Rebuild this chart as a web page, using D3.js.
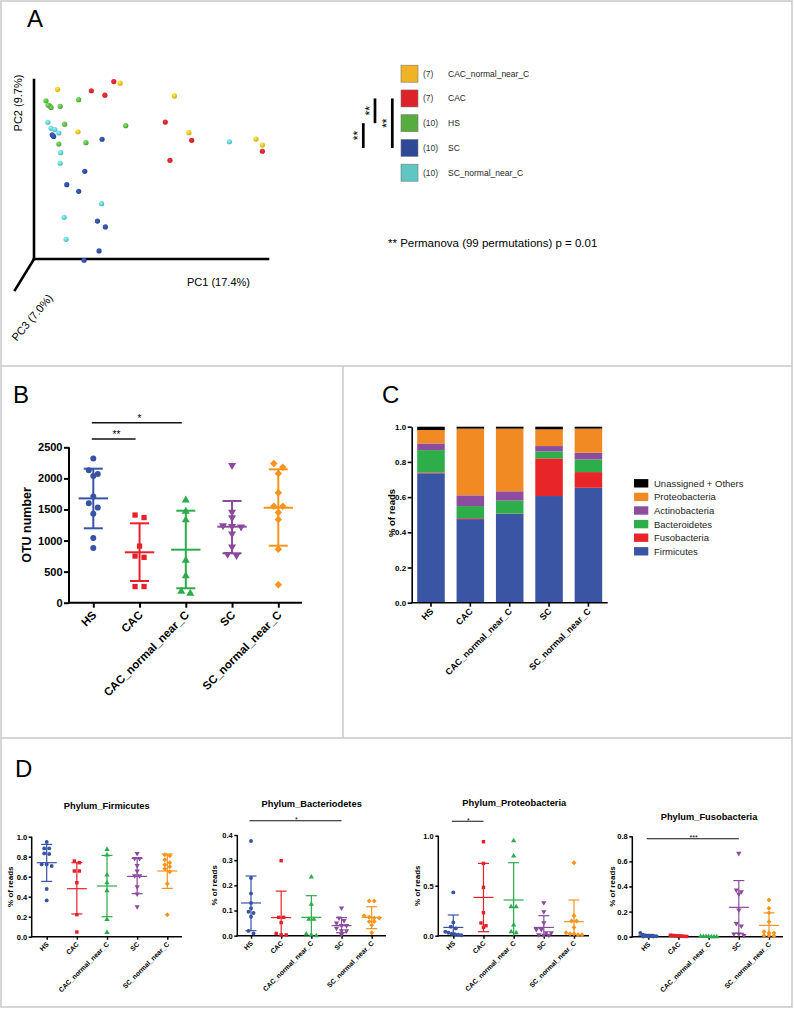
<!DOCTYPE html>
<html>
<head>
<meta charset="utf-8">
<script src="https://cdn.jsdelivr.net/npm/d3@7"></script>
<style>
  body { margin: 0; background: #fff; }
  svg text { font-family: "Liberation Sans", Arial, sans-serif; }
</style>
</head>
<body>
<div id="chart"></div>
<script>
// ---------- shared ----------
var groups = ["HS", "CAC", "CAC_normal_near_C", "SC", "SC_normal_near_C"];
var groupColors = ["#3953a4", "#e62129", "#2bab4a", "#8b4a9c", "#f7941d"];

// ---------- panel A : PCoA (arbitrary PC units 0-100) ----------
var pcoaGroups = ["CAC_normal_near_C", "CAC", "HS", "SC", "SC_normal_near_C"];
var pcoaCounts = ["(7)", "(7)", "(10)", "(10)", "(10)"];
var pcoaColors = ["#f0b323", "#dd2229", "#56ad3f", "#2c4896", "#5fc6c4"];
var pcoaCACnormal = [[10.1, 94.8], [36.8, 98.2], [60.0, 91.1], [18.8, 71.1], [66.2, 70.6], [94.9, 67.0], [97.6, 63.7]];
var pcoaCAC = [[34.1, 99.1], [24.5, 94.0], [30.3, 91.5], [56.1, 76.5], [67.4, 66.3], [58.1, 55.1], [97.6, 60.2]];
var pcoaHS = [[5.1, 88.4], [6.7, 85.5], [7.3, 84.7], [11.2, 85.3], [19.1, 89.0], [13.1, 75.3], [39.2, 74.5], [10.6, 64.2], [22.2, 65.0], [6.0, 86.0]];
var pcoaSC = [[7.8, 69.3], [29.1, 66.9], [21.7, 49.0], [14.0, 41.5], [19.1, 37.8], [27.1, 21.2], [30.5, 17.9], [27.8, 4.5], [21.4, -0.7], [8.4, 68.5]];
var pcoaSCnormal = [[5.9, 76.4], [7.3, 73.0], [8.9, 72.3], [10.6, 70.4], [11.4, 59.4], [11.2, 53.5], [28.9, 30.9], [12.9, 23.3], [13.7, 11.0], [83.5, 65.5]];
var pcoaPoints = [pcoaCACnormal, pcoaCAC, pcoaHS, pcoaSC, pcoaSCnormal];
// significance brackets between legend rows
var pcoaSigFrom = ["CAC", "CAC", "HS"];
var pcoaSigTo = ["HS", "SC", "SC"];

// ---------- panel B : OTU number ----------
var otuValues = [
  [2320, 2130, 2040, 2070, 1710, 1600, 1530, 1430, 1040, 880],
  [1410, 1370, 910, 750, 730, 260, 260],
  [1650, 1470, 1330, 680, 430, 150, 180],
  [2210, 1460, 1370, 1230, 1220, 1240, 1110, 900, 780, 760],
  [2240, 2180, 2080, 1770, 1550, 1550, 1450, 1340, 860, 290]
];
var otuMean = [1678, 811, 853, 1223, 1528];
var otuSdHigh = [2156, 1277, 1480, 1636, 2146];
var otuSdLow = [1197, 349, 232, 795, 917];
var otuTicks = [0, 500, 1000, 1500, 2000, 2500];
var otuSigFrom = ["HS", "HS"];
var otuSigTo = ["CAC", "CAC_normal_near_C"];
var otuSigLabel = ["**", "*"];

// ---------- panel C : composition ----------
var phyla = ["Firmicutes", "Fusobacteria", "Bacteroidetes", "Actinobacteria", "Proteobacteria", "Unassigned + Others"];
var phylaColors = ["#3a55a4", "#e8262a", "#2eae4b", "#8e4c9e", "#f28a24", "#000000"];
var shareFirmicutes = [0.735, 0.475, 0.504, 0.606, 0.653];
var shareFusobacteria = [0.005, 0.005, 0.002, 0.214, 0.089];
var shareBacteroidetes = [0.127, 0.069, 0.074, 0.040, 0.072];
var shareActinobacteria = [0.038, 0.061, 0.053, 0.030, 0.038];
var shareProteobacteria = [0.076, 0.379, 0.356, 0.095, 0.137];
var shareUnassigned = [0.019, 0.011, 0.011, 0.015, 0.011];
var shareTicks = [0, 0.2, 0.4, 0.6, 0.8, 1.0];

// ---------- panel D : per phylum ----------
var firmValues = [
  [0.947, 0.883, 0.883, 0.833, 0.827, 0.723, 0.707, 0.723, 0.477, 0.363],
  [0.757, 0.74, 0.657, 0.657, 0.54, 0.22, 0.047],
  [0.873, 0.817, 0.617, 0.54, 0.46, 0.173, 0.043],
  [0.833, 0.783, 0.783, 0.713, 0.657, 0.61, 0.61, 0.5, 0.427, 0.3],
  [0.82, 0.81, 0.77, 0.74, 0.72, 0.70, 0.68, 0.65, 0.53, 0.22]
];
var firmMean = [0.74, 0.48, 0.507, 0.603, 0.657];
var firmSdHigh = [0.923, 0.74, 0.813, 0.783, 0.827];
var firmSdLow = [0.553, 0.227, 0.2, 0.43, 0.483];

var bactValues = [
  [0.376, 0.229, 0.168, 0.13, 0.109, 0.095, 0.09, 0.075, 0.019, 0.009],
  [0.298, 0.073, 0.073, 0.052, 0.009, 0.003, 0.003],
  [0.233, 0.125, 0.065, 0.065, 0.007, 0.003, 0.0],
  [0.11, 0.07, 0.06, 0.05, 0.04, 0.04, 0.03, 0.02, 0.02, 0.005],
  [0.138, 0.138, 0.079, 0.073, 0.07, 0.07, 0.056, 0.056, 0.042, 0.012]
];
var bactMean = [0.13, 0.072, 0.073, 0.04, 0.073];
var bactSdHigh = [0.237, 0.177, 0.159, 0.072, 0.115];
var bactSdLow = [0.02, -0.03, -0.01, 0.012, 0.028];

var protValues = [
  [0.433, 0.133, 0.09, 0.073, 0.04, 0.03, 0.02, 0.015, 0.01, 0.005],
  [0.94, 0.723, 0.483, 0.23, 0.127, 0.1, 0.083],
  [0.95, 0.797, 0.29, 0.29, 0.107, 0.04, 0.03],
  [0.33, 0.24, 0.13, 0.063, 0.063, 0.03, 0.03, 0.01, 0.005, 0.005],
  [0.73, 0.2, 0.147, 0.147, 0.083, 0.03, 0.02, 0.02, 0.01, 0.01]
];
var protMean = [0.083, 0.383, 0.357, 0.083, 0.14];
var protSdHigh = [0.207, 0.723, 0.73, 0.2, 0.357];
var protSdLow = [-0.04, 0.04, -0.02, -0.03, -0.08];

var fusoValues = [
  [0.03, 0.015, 0.01, 0.008, 0.005, 0.005, 0.003, 0.002, 0.001, 0.001],
  [0.012, 0.01, 0.008, 0.006, 0.005, 0.003, 0.002],
  [0.002, 0.001, 0.001, 0.001, 0.0, 0.0, 0.0],
  [0.664, 0.372, 0.359, 0.34, 0.213, 0.106, 0.085, 0.021, 0.021, 0.01],
  [0.292, 0.226, 0.19, 0.12, 0.04, 0.03, 0.03, 0.01, 0.01, 0.005]
];
var fusoMean = [0.008, 0.007, 0.001, 0.234, 0.09];
var fusoSdHigh = [0.018, 0.011, 0.002, 0.447, 0.19];
var fusoSdLow = [-0.002, 0.003, 0.0, 0.027, -0.01];

// ================================================================
var svg = d3.select("#chart").append("svg")
    .attr("width", 794)
    .attr("height", 1010);

// panel frames
var frame = svg.append("g")
    .attr("fill", "none")
    .attr("stroke", "#c9c9c9")
    .attr("stroke-width", 1.5);
frame.append("rect").attr("x", 1).attr("y", 1).attr("width", 791).attr("height", 1006);
frame.append("line").attr("x1", 1).attr("x2", 792).attr("y1", 366).attr("y2", 366);
frame.append("line").attr("x1", 1).attr("x2", 792).attr("y1", 738).attr("y2", 738);
frame.append("line").attr("x1", 343).attr("x2", 343).attr("y1", 366).attr("y2", 738);

// panel letters
var letters = [["A", 27, 27], ["B", 13, 403], ["C", 382, 403], ["D", 15, 777]];
svg.selectAll(".letter").data(letters).enter().append("text")
    .attr("x", function(d) { return d[1]; })
    .attr("y", function(d) { return d[2]; })
    .attr("font-size", 24)
    .text(function(d) { return d[0]; });

// ---------------- panel A ----------------
var pcX = d3.scaleLinear().domain([0, 100]).range([34, 268]);
var pcY = d3.scaleLinear().domain([0, 100]).range([259, 80]);

var gA = svg.append("g");
var ax = gA.append("g").attr("stroke", "#000").attr("stroke-width", 2.6).attr("stroke-linecap", "square");
ax.append("line").attr("x1", pcX(0)).attr("x2", pcX(0)).attr("y1", pcY(0)).attr("y2", pcY(100));
ax.append("line").attr("x1", pcX(0)).attr("x2", pcX(100)).attr("y1", pcY(0)).attr("y2", pcY(0));
ax.append("line").attr("x1", pcX(0)).attr("x2", pcX(0) - 19).attr("y1", pcY(0)).attr("y2", pcY(0) + 31);

gA.append("text").attr("transform", "translate(22," + 103 + ") rotate(-90)")
    .attr("text-anchor", "middle").attr("font-size", 11).text("PC2 (9.7%)");
gA.append("text").attr("x", 187).attr("y", 286)
    .attr("font-size", 11).text("PC1 (17.4%)");
gA.append("text").attr("transform", "translate(35,320) rotate(-50)")
    .attr("text-anchor", "middle").attr("font-size", 11).text("PC3 (7.0%)");

var defs = svg.append("defs");
pcoaColors.forEach(function(c, i) {
  var gr = defs.append("radialGradient").attr("id", "ball" + i)
      .attr("cx", "38%").attr("cy", "35%").attr("r", "70%");
  gr.append("stop").attr("offset", "0%").attr("stop-color", d3.color(c).brighter(0.9));
  gr.append("stop").attr("offset", "100%").attr("stop-color", d3.color(c).darker(0.35));
});

pcoaPoints.forEach(function(pts, i) {
  gA.selectAll(null).data(pts).enter().append("circle")
      .attr("cx", function(d) { return pcX(d[0]); })
      .attr("cy", function(d) { return pcY(d[1]); })
      .attr("r", 2.6)
      .attr("fill", "url(#ball" + i + ")");
});

// legend
var legY = d3.scalePoint().domain(pcoaGroups).range([73.7, 172.7]);
var leg = gA.selectAll(".leg").data(pcoaGroups).enter().append("g")
    .attr("transform", function(d) { return "translate(401," + legY(d) + ")"; });
leg.append("rect").attr("x", 0).attr("y", -8.5).attr("width", 17).attr("height", 17)
    .attr("fill", function(d, i) { return pcoaColors[i]; })
    .attr("stroke", "#777").attr("stroke-width", 0.6);
leg.append("text").attr("x", 22).attr("y", 3).attr("font-size", 8.5).attr("fill", "#333")
    .text(function(d, i) { return pcoaCounts[i]; });
leg.append("text").attr("x", 47).attr("y", 3).attr("font-size", 8.5).attr("fill", "#222")
    .text(function(d) { return d; });

// brackets, each with a rotated "**"
var sigX = [375, 392.3, 363.3];
var sigG = gA.append("g").attr("opacity", 0.999);
pcoaSigFrom.forEach(function(f, i) {
  var mid = (legY(f) + legY(pcoaSigTo[i])) / 2;
  sigG.append("line").attr("x1", sigX[i]).attr("x2", sigX[i])
      .attr("y1", legY(f)).attr("y2", legY(pcoaSigTo[i]))
      .attr("stroke", "#000").attr("stroke-width", 2.7);
  sigG.append("text")
      .attr("transform", "translate(" + (sigX[i] - 1) + "," + mid + ") rotate(-90)")
      .attr("text-anchor", "middle").attr("font-size", 12).attr("fill", "#000").text("**");
});

gA.append("text").attr("x", 388).attr("y", 247).attr("font-size", 11.5)
    .text("** Permanova (99 permutations) p = 0.01");

// ---------------- dot plot helper ----------------
var shapes = [d3.symbolCircle, d3.symbolSquare, d3.symbolTriangle, d3.symbolTriangle, d3.symbolSquare];
var shapeRot = ["", "", "", " rotate(180)", " rotate(45)"];

// spread points that sit at nearly the same height
function spread(vals, y, minPx, step, maxHalf) {
  var idx = vals.map(function(v, i) { return i; })
      .sort(function(a, b) { return vals[b] - vals[a]; });
  var offs = vals.map(function() { return 0; });
  var cluster = [];
  function flush() {
    var n = cluster.length;
    var s = n > 1 ? Math.min(step, 2 * maxHalf / (n - 1)) : 0;
    cluster.forEach(function(k, j) { offs[k] = (j - (n - 1) / 2) * s; });
    cluster = [];
  }
  idx.forEach(function(k) {
    if (cluster.length && Math.abs(y(vals[k]) - y(vals[cluster[0]])) > minPx) flush();
    cluster.push(k);
  });
  flush();
  return offs;
}

function dotPlot(c) {
  var g = svg.append("g");
  var y = d3.scaleLinear().domain(c.domain).range([c.bottom, c.top]);
  var x = d3.scalePoint().domain(groups).range([c.catFirst, c.catLast]);

  // y axis
  var ya = g.append("g").attr("transform", "translate(" + c.axisX + ",0)")
      .call(d3.axisLeft(y).tickValues(c.ticks).tickFormat(d3.format(c.fmt))
        .tickSize(c.tick).tickSizeOuter(0).tickPadding(1.5));
  ya.attr("font-family", null).attr("font-size", c.tickFont).attr("font-weight", "bold");
  ya.selectAll("line, path").attr("stroke", "#000").attr("stroke-width", c.axisW);
  ya.select(".domain").attr("d", "M0," + (c.bottom + c.axisW / 2) + "V" + c.top);
  ya.selectAll("text").attr("fill", "#000");

  // x axis
  var xa = g.append("g").attr("transform", "translate(0," + c.bottom + ")")
      .call(d3.axisBottom(x).tickSize(c.tick).tickSizeOuter(0).tickFormat(""));
  xa.selectAll("line, path").attr("stroke", "#000").attr("stroke-width", c.axisW);
  xa.select(".domain").attr("d", "M" + (c.axisX - c.axisW / 2) + ",0H" + c.axisEnd);

  g.selectAll(".xl").data(groups).enter().append("text")
      .attr("transform", function(d) {
        return "translate(" + (x(d) + c.labDx) + "," + (c.bottom + c.labDy) + ") rotate(-45)";
      })
      .attr("text-anchor", "end")
      .attr("font-size", c.labFont)
      .attr("font-weight", "bold")
      .text(function(d) { return d; });

  // y label
  g.append("text")
      .attr("transform", "translate(" + c.ylabX + "," + (c.bottom + c.top) / 2 + ") rotate(-90)")
      .attr("text-anchor", "middle")
      .attr("font-size", c.ylabFont)
      .attr("font-weight", "bold")
      .text(c.ylabel);

  if (c.title) {
    g.append("text").attr("x", c.titleX).attr("y", c.titleY)
        .attr("text-anchor", "middle").attr("font-size", c.titleFont)
        .attr("font-weight", "bold").text(c.title);
  }

  // error bars (mean +/- SD)
  groups.forEach(function(gname, gi) {
    var cx = x(gname), lo = c.sdLow[gi], hi = c.sdHigh[gi], col = groupColors[gi];
    var eb = g.append("g").attr("stroke", col).attr("stroke-width", c.errW);
    eb.append("line").attr("x1", cx).attr("x2", cx)
        .attr("y1", y(Math.max(lo, c.domain[0]))).attr("y2", y(hi));
    eb.append("line").attr("x1", cx - c.meanHalf).attr("x2", cx + c.meanHalf)
        .attr("y1", y(c.mean[gi])).attr("y2", y(c.mean[gi]));
    eb.append("line").attr("x1", cx - c.capHalf).attr("x2", cx + c.capHalf)
        .attr("y1", y(hi)).attr("y2", y(hi));
    if (lo >= c.domain[0]) {
      eb.append("line").attr("x1", cx - c.capHalf).attr("x2", cx + c.capHalf)
          .attr("y1", y(lo)).attr("y2", y(lo));
    }
  });

  // points
  c.values.forEach(function(vals, gi) {
    var offs = spread(vals, y, c.clusterPx, c.step, c.maxHalf);
    g.selectAll(null).data(vals).enter().append("path")
        .attr("d", d3.symbol().type(shapes[gi]).size(c.symSize))
        .attr("transform", function(d, i) {
          return "translate(" + (x(groups[gi]) + offs[i]) + "," + y(d) + ")" + shapeRot[gi];
        })
        .attr("fill", groupColors[gi]);
  });

  // significance lines
  (c.sigFrom || []).forEach(function(f, i) {
    var ly = c.sigY[i];
    g.append("line").attr("x1", x(f) - 1.5).attr("x2", x(c.sigTo[i]) - c.sigTrim)
        .attr("y1", ly).attr("y2", ly)
        .attr("stroke", "#111").attr("stroke-width", c.sigW);
    g.append("text").attr("x", (x(f) + x(c.sigTo[i])) / 2).attr("y", ly + c.sigDy)
        .attr("text-anchor", "middle").attr("font-size", c.sigFont)
        .text(c.sigLabel[i]);
  });
}

// ---------------- panel B ----------------
dotPlot({
  axisX: 69, bottom: 602.7, top: 447.3, domain: [0, 2500], ticks: otuTicks, fmt: "d",
  tick: 5, axisW: 2, tickFont: 11, catFirst: 93.3, catLast: 278.3, axisEnd: 302,
  labFont: 11.5, labDx: 4, labDy: 13, symSize: 28, meanHalf: 14.7, capHalf: 9.5, errW: 2,
  clusterPx: 5, step: 9, maxHalf: 14,
  ylabel: "OTU number", ylabX: 31, ylabFont: 12.5,
  values: otuValues, mean: otuMean, sdHigh: otuSdHigh, sdLow: otuSdLow,
  sigFrom: otuSigFrom, sigTo: otuSigTo, sigLabel: otuSigLabel, sigY: [439, 422.7],
  sigTrim: 4, sigW: 1.6, sigDy: -1, sigFont: 10
});

// ---------------- panel C ----------------
var cShares = [shareFirmicutes, shareFusobacteria, shareBacteroidetes, shareActinobacteria, shareProteobacteria, shareUnassigned];
var cTable = groups.map(function(gname, i) {
  var row = { group: gname };
  phyla.forEach(function(p, j) { row[p] = cShares[j][i]; });
  return row;
});
var stacked = d3.stack().keys(phyla)(cTable);

var cX = d3.scaleBand().domain(groups).range([411.7, 607.7]).paddingInner(0.3).paddingOuter(0.14);
var cY = d3.scaleLinear().domain([0, 1]).range([602.7, 426.7]);
var gC = svg.append("g");

gC.selectAll(".layer").data(stacked).enter().append("g")
    .attr("fill", function(d, i) { return phylaColors[i]; })
  .selectAll("rect").data(function(d) { return d; }).enter().append("rect")
    .attr("x", function(d) { return cX(d.data.group); })
    .attr("width", cX.bandwidth())
    .attr("y", function(d) { return cY(d[1]); })
    .attr("height", function(d) { return cY(d[0]) - cY(d[1]); });

var cya = gC.append("g").attr("transform", "translate(411.7,0)")
    .call(d3.axisLeft(cY).tickValues(shareTicks).tickFormat(d3.format(".1f"))
      .tickSize(4).tickSizeOuter(0).tickPadding(1.5));
cya.attr("font-family", null).attr("font-size", 8).attr("font-weight", "bold");
cya.selectAll("line, path").attr("stroke", "#000").attr("stroke-width", 1.6);
cya.selectAll("text").attr("fill", "#000");

var cxa = gC.append("g").attr("transform", "translate(0,602.7)")
    .call(d3.axisBottom(cX).tickSize(4).tickSizeOuter(0).tickFormat(""));
cxa.selectAll("line, path").attr("stroke", "#000").attr("stroke-width", 1.6);
cxa.select(".domain").attr("d", "M410.9,0H607.7");

gC.selectAll(".cxl").data(groups).enter().append("text")
    .attr("transform", function(d) {
      return "translate(" + (cX(d) + cX.bandwidth() / 2 + 3) + ",612) rotate(-45)";
    })
    .attr("text-anchor", "end")
    .attr("font-size", 9)
    .attr("font-weight", "bold")
    .text(function(d) { return d; });

gC.append("text").attr("transform", "translate(395,513) rotate(-90)")
    .attr("text-anchor", "middle").attr("font-size", 9.5).attr("font-weight", "bold")
    .text("% of reads");

var cLegOrder = phyla.slice().reverse();
var cLegY = d3.scalePoint().domain(cLegOrder).range([483.3, 551.3]);
var cLeg = gC.selectAll(".cleg").data(cLegOrder).enter().append("g")
    .attr("transform", function(d) { return "translate(634," + cLegY(d) + ")"; });
cLeg.append("rect").attr("y", -4.2).attr("width", 14.3).attr("height", 8.4)
    .attr("fill", function(d) { return phylaColors[phyla.indexOf(d)]; });
cLeg.append("text").attr("x", 20).attr("y", 3.4).attr("font-size", 9.5).attr("fill", "#222")
    .text(function(d) { return d; });

// ---------------- panel D ----------------
var dCommon = {
  tick: 3, axisW: 1.5, tickFont: 7.5, labFont: 6.8, labDx: 2.5, labDy: 8,
  symSize: 12, meanHalf: 10, capHalf: 5.5, errW: 1.2, clusterPx: 3.5, step: 5, maxHalf: 8,
  ylabel: "% of reads", ylabFont: 8, titleFont: 9.3,
  sigTrim: 0, sigW: 1.1, sigDy: 1.2, sigFont: 7
};
function dPanel(extra) { return Object.assign({}, dCommon, extra); }

dotPlot(dPanel({
  axisX: 31.7, bottom: 936.7, top: 836.7, domain: [0, 1], ticks: [0, 0.2, 0.4, 0.6, 0.8, 1.0], fmt: ".1f",
  catFirst: 46.7, catLast: 167.3, axisEnd: 182, ylabX: 13,
  title: "Phylum_Firmicutes", titleX: 106.7, titleY: 808.5,
  values: firmValues, mean: firmMean, sdHigh: firmSdHigh, sdLow: firmSdLow
}));

dotPlot(dPanel({
  axisX: 237.3, bottom: 935.7, top: 835, domain: [0, 0.4], ticks: [0, 0.1, 0.2, 0.3, 0.4], fmt: ".1f",
  catFirst: 251, catLast: 371.7, axisEnd: 386, ylabX: 216.5,
  title: "Phylum_Bacteriodetes", titleX: 311.7, titleY: 806.5,
  values: bactValues, mean: bactMean, sdHigh: bactSdHigh, sdLow: bactSdLow,
  sigFrom: ["HS"], sigTo: ["SC"], sigLabel: ["*"], sigY: [820.7]
}));

dotPlot(dPanel({
  axisX: 438.3, bottom: 935.7, top: 835.7, domain: [0, 1], ticks: [0, 0.5, 1.0], fmt: ".1f",
  catFirst: 453.3, catLast: 574, axisEnd: 589, ylabX: 420,
  title: "Phylum_Proteobacteria", titleX: 514.3, titleY: 806,
  values: protValues, mean: protMean, sdHigh: protSdHigh, sdLow: protSdLow,
  sigFrom: ["HS"], sigTo: ["CAC"], sigLabel: ["*"], sigY: [821.3]
}));

dotPlot(dPanel({
  axisX: 632.3, bottom: 936.7, top: 836.3, domain: [0, 0.8], ticks: [0, 0.2, 0.4, 0.6, 0.8], fmt: ".1f",
  catFirst: 648.3, catLast: 769, axisEnd: 783, ylabX: 615,
  title: "Phylum_Fusobacteria", titleX: 709, titleY: 820,
  values: fusoValues, mean: fusoMean, sdHigh: fusoSdHigh, sdLow: fusoSdLow,
  sigFrom: ["HS"], sigTo: ["SC"], sigLabel: ["***"], sigY: [838.7]
}));
</script>
</body>
</html>
